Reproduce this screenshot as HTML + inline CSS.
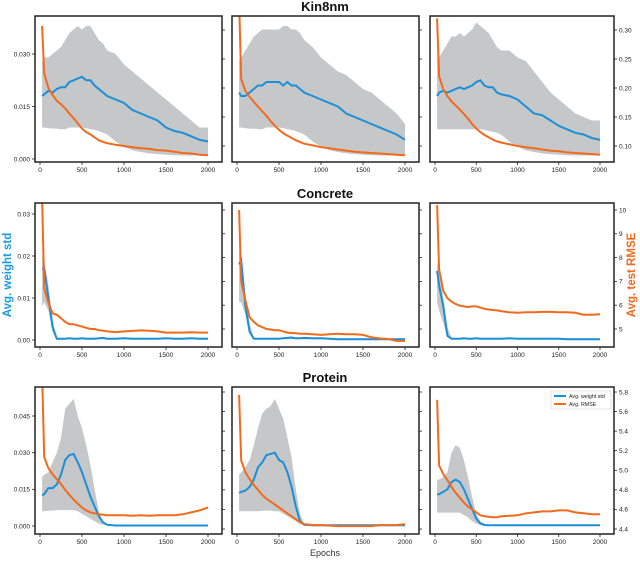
<!DOCTYPE html>
<html><head><meta charset="utf-8"><style>
body{margin:0;background:#fff;width:640px;height:562px;overflow:hidden;font-family:"Liberation Sans",sans-serif}
svg text{font-family:"Liberation Sans",sans-serif}
</style></head><body>
<svg id="chart" width="640" height="562" xmlns="http://www.w3.org/2000/svg"></svg>
<script>
const epochs=[25,50,100,150,200,250,300,350,400,450,500,550,600,650,700,750,800,900,1000,1100,1200,1300,1400,1500,1600,1700,1800,1900,2000];
const xTicks=[0,500,1000,1500,2000];
const rowTitles=["Kin8nm","Concrete","Protein"];
const leftTicks=[[0,0.015,0.030],[0,0.01,0.02,0.03],[0,0.015,0.030,0.045]];
const leftTickLabels=[["0.000","0.015","0.030"],["0.00","0.01","0.02","0.03"],["0.000","0.015","0.030","0.045"]];
const rightTicks=[[0.10,0.15,0.20,0.25,0.30],[5,6,7,8,9,10],[4.4,4.6,4.8,5.0,5.2,5.4,5.6,5.8]];
const rightTickLabels=[["0.10","0.15","0.20","0.25","0.30"],["5","6","7","8","9","10"],["4.4","4.6","4.8","5.0","5.2","5.4","5.6","5.8"]];
// Kin8nm
const k1Mean=[0.018,0.0185,0.0195,0.019,0.020,0.0205,0.0205,0.022,0.0225,0.023,0.0235,0.0225,0.0225,0.021,0.020,0.019,0.018,0.017,0.016,0.014,0.013,0.012,0.011,0.009,0.008,0.0075,0.0065,0.0055,0.005];
const k1Hi=[0.028,0.029,0.029,0.030,0.031,0.032,0.034,0.036,0.037,0.038,0.037,0.038,0.038,0.036,0.034,0.033,0.031,0.030,0.027,0.025,0.023,0.021,0.019,0.017,0.015,0.013,0.011,0.009,0.009];
const k1Lo=[0.009,0.009,0.0088,0.0087,0.0087,0.0085,0.0085,0.009,0.009,0.009,0.009,0.0088,0.0085,0.0083,0.008,0.0075,0.007,0.005,0.0035,0.0025,0.002,0.0016,0.0014,0.0012,0.0011,0.001,0.001,0.001,0.001];
const k1Rmse=[0.307,0.225,0.20,0.188,0.178,0.172,0.165,0.156,0.148,0.139,0.13,0.124,0.12,0.115,0.11,0.107,0.105,0.102,0.1,0.098,0.096,0.095,0.093,0.092,0.09,0.088,0.087,0.085,0.084];
const k2Mean=[0.019,0.018,0.018,0.019,0.020,0.021,0.021,0.022,0.022,0.022,0.022,0.021,0.022,0.021,0.021,0.020,0.019,0.018,0.017,0.016,0.015,0.013,0.012,0.011,0.010,0.009,0.008,0.007,0.0055];
const k2Hi=[0.028,0.029,0.031,0.033,0.035,0.036,0.037,0.037,0.037,0.037,0.037,0.038,0.038,0.037,0.037,0.036,0.034,0.032,0.029,0.027,0.025,0.024,0.022,0.020,0.019,0.017,0.015,0.013,0.010];
const k2Lo=[0.009,0.009,0.0088,0.0087,0.0087,0.0085,0.0085,0.009,0.009,0.009,0.009,0.0088,0.0085,0.0083,0.008,0.0075,0.007,0.005,0.0035,0.0025,0.002,0.0016,0.0014,0.0012,0.0011,0.001,0.001,0.001,0.001];
const k2Rmse=[0.35,0.215,0.195,0.185,0.176,0.168,0.16,0.152,0.143,0.135,0.128,0.122,0.118,0.114,0.11,0.107,0.104,0.101,0.098,0.096,0.094,0.092,0.09,0.089,0.088,0.087,0.086,0.085,0.084];
const k3Mean=[0.018,0.019,0.0195,0.019,0.0195,0.020,0.0205,0.020,0.0205,0.021,0.022,0.0225,0.021,0.0205,0.0205,0.019,0.0185,0.018,0.017,0.015,0.013,0.0125,0.011,0.0095,0.0085,0.0075,0.007,0.006,0.0055];
const k3Hi=[0.029,0.029,0.031,0.033,0.035,0.035,0.036,0.035,0.036,0.037,0.039,0.038,0.037,0.036,0.034,0.032,0.031,0.031,0.029,0.028,0.025,0.022,0.019,0.017,0.015,0.013,0.012,0.011,0.011];
const k3Lo=[0.0085,0.0085,0.0085,0.0085,0.0085,0.0085,0.0085,0.0085,0.0085,0.0085,0.0085,0.0085,0.0083,0.008,0.0078,0.0075,0.007,0.005,0.0035,0.0025,0.002,0.0016,0.0014,0.0012,0.0011,0.001,0.001,0.001,0.001];
const k3Rmse=[0.32,0.22,0.198,0.186,0.177,0.17,0.163,0.155,0.147,0.138,0.13,0.124,0.119,0.115,0.111,0.108,0.106,0.103,0.1,0.098,0.096,0.094,0.092,0.091,0.089,0.088,0.087,0.086,0.085];
// Concrete
const c1Mean=[0.017,0.017,0.010,0.003,0.0003,0.0003,0.0003,0.0004,0.0003,0.0003,0.0004,0.0003,0.0003,0.0003,0.0004,0.0005,0.0003,0.0003,0.0004,0.0003,0.0003,0.0003,0.0003,0.0004,0.0003,0.0003,0.0004,0.0003,0.0003];
const c1Hi=[0.020,0.019,0.013,0.005,0.0006,0.0005,0.0005,0.0006,0.0005,0.0005,0.0006,0.0005,0.0005,0.0005,0.0006,0.0007,0.0005,0.0005,0.0006,0.0005,0.0005,0.0005,0.0005,0.0006,0.0005,0.0005,0.0006,0.0005,0.0005];
const c1Lo=[0.008,0.009,0.007,0.002,0.0002,0.0002,0.0002,0.0002,0.0002,0.0002,0.0002,0.0002,0.0002,0.0002,0.0002,0.0002,0.0002,0.0002,0.0002,0.0002,0.0002,0.0002,0.0002,0.0002,0.0002,0.0002,0.0002,0.0002,0.0002];
const c1Rmse=[10.5,6.7,6.1,5.65,5.6,5.45,5.3,5.2,5.2,5.15,5.1,5.05,5.0,5.0,4.95,4.93,4.9,4.87,4.9,4.92,4.94,4.93,4.9,4.85,4.85,4.85,4.86,4.85,4.85];
const c2Mean=[0.018,0.019,0.008,0.002,0.0003,0.0003,0.0003,0.0003,0.0003,0.0003,0.0003,0.0004,0.0005,0.0006,0.0004,0.0004,0.0005,0.0004,0.0004,0.0003,0.0002,0.0002,0.0002,0.0002,0.0002,0.0002,0.0002,0.0002,0.0002];
const c2Hi=[0.021,0.020,0.011,0.004,0.0006,0.0005,0.0005,0.0005,0.0005,0.0005,0.0005,0.0006,0.0007,0.0008,0.0006,0.0006,0.0007,0.0006,0.0006,0.0005,0.0004,0.0004,0.0004,0.0004,0.0004,0.0004,0.0004,0.0004,0.0004];
const c2Lo=[0.009,0.009,0.006,0.0015,0.0002,0.0002,0.0002,0.0002,0.0002,0.0002,0.0002,0.0002,0.0002,0.0002,0.0002,0.0002,0.0002,0.0002,0.0002,0.0002,0.0001,0.0001,0.0001,0.0001,0.0001,0.0001,0.0001,0.0001,0.0001];
const c2Rmse=[10.0,7.0,6.2,5.5,5.3,5.15,5.08,5.0,4.98,4.95,4.95,4.9,4.85,4.83,4.82,4.8,4.8,4.78,4.75,4.78,4.8,4.78,4.78,4.75,4.65,4.6,4.58,4.5,4.5];
const c3Mean=[0.0165,0.013,0.008,0.001,0.0003,0.0003,0.0003,0.0004,0.0003,0.0003,0.0004,0.0003,0.0003,0.0003,0.0003,0.0003,0.0003,0.0004,0.0003,0.0003,0.0003,0.0003,0.0003,0.0003,0.0002,0.0002,0.0002,0.0002,0.0002];
const c3Hi=[0.019,0.016,0.010,0.003,0.0006,0.0005,0.0005,0.0006,0.0005,0.0005,0.0006,0.0005,0.0005,0.0005,0.0005,0.0005,0.0005,0.0006,0.0005,0.0005,0.0005,0.0005,0.0005,0.0005,0.0004,0.0004,0.0004,0.0004,0.0004];
const c3Lo=[0.009,0.007,0.004,0.0007,0.0002,0.0002,0.0002,0.0002,0.0002,0.0002,0.0002,0.0002,0.0002,0.0002,0.0002,0.0002,0.0002,0.0002,0.0002,0.0002,0.0002,0.0002,0.0002,0.0002,0.0001,0.0001,0.0001,0.0001,0.0001];
const c3Rmse=[10.2,7.5,6.6,6.3,6.15,6.05,5.98,5.95,5.92,5.95,5.95,5.9,5.85,5.82,5.8,5.78,5.75,5.7,5.68,5.7,5.7,5.72,5.72,5.7,5.7,5.68,5.6,5.6,5.62];
// Protein
const p1Mean=[0.0125,0.013,0.0155,0.0155,0.017,0.021,0.027,0.029,0.0295,0.026,0.022,0.017,0.012,0.008,0.004,0.0015,0.0005,0.0002,0.0002,0.0002,0.0002,0.0002,0.0002,0.0002,0.0002,0.0002,0.0002,0.0002,0.0002];
const p1Hi=[0.020,0.021,0.022,0.026,0.030,0.036,0.048,0.050,0.052,0.045,0.040,0.033,0.025,0.015,0.006,0.002,0.0008,0.0005,0.0005,0.0005,0.0005,0.0005,0.0005,0.0005,0.0005,0.0005,0.0005,0.0005,0.0005];
const p1Lo=[0.006,0.006,0.0062,0.0063,0.0065,0.0065,0.0065,0.0065,0.0065,0.006,0.005,0.004,0.003,0.002,0.001,0.0005,0.0003,0.0001,0.0001,0.0001,0.0001,0.0001,0.0001,0.0001,0.0001,0.0001,0.0001,0.0001,0.0001];
const p1Rmse=[6.0,5.135,5.02,4.96,4.91,4.86,4.8,4.75,4.7,4.66,4.62,4.59,4.57,4.56,4.55,4.545,4.54,4.54,4.54,4.535,4.54,4.535,4.54,4.54,4.54,4.55,4.57,4.59,4.62];
const p2Mean=[0.0135,0.014,0.0145,0.016,0.019,0.024,0.026,0.029,0.0295,0.030,0.027,0.026,0.022,0.016,0.008,0.002,0.0005,0.0003,0.0003,0.0003,0.0003,0.0003,0.0003,0.0003,0.0003,0.0003,0.0003,0.0003,0.0003];
const p2Hi=[0.021,0.022,0.024,0.027,0.033,0.040,0.046,0.048,0.049,0.052,0.048,0.044,0.036,0.028,0.015,0.005,0.001,0.0006,0.0006,0.0006,0.0006,0.0006,0.0006,0.0006,0.0006,0.0006,0.0006,0.0006,0.0006];
const p2Lo=[0.006,0.006,0.006,0.006,0.006,0.006,0.0062,0.0063,0.0063,0.006,0.006,0.005,0.004,0.003,0.002,0.001,0.0003,0.0001,0.0001,0.0001,0.0001,0.0001,0.0001,0.0001,0.0001,0.0001,0.0001,0.0001,0.0001];
const p2Rmse=[5.77,5.1,4.98,4.91,4.85,4.8,4.75,4.71,4.68,4.65,4.62,4.59,4.56,4.53,4.5,4.47,4.45,4.44,4.44,4.435,4.43,4.43,4.43,4.43,4.43,4.44,4.44,4.44,4.45];
const p3Mean=[0.013,0.013,0.014,0.015,0.018,0.019,0.018,0.015,0.011,0.007,0.003,0.001,0.0004,0.0003,0.0003,0.0003,0.0003,0.0003,0.0003,0.0003,0.0003,0.0003,0.0003,0.0003,0.0003,0.0003,0.0003,0.0003,0.0003];
const p3Hi=[0.019,0.019,0.020,0.022,0.030,0.033,0.032,0.027,0.020,0.012,0.005,0.002,0.001,0.0006,0.0006,0.0006,0.0006,0.0006,0.0006,0.0006,0.0006,0.0006,0.0006,0.0006,0.0006,0.0006,0.0006,0.0006,0.0006];
const p3Lo=[0.0055,0.0055,0.0055,0.0055,0.0055,0.0055,0.0055,0.0045,0.0035,0.002,0.001,0.0005,0.0002,0.0001,0.0001,0.0001,0.0001,0.0001,0.0001,0.0001,0.0001,0.0001,0.0001,0.0001,0.0001,0.0001,0.0001,0.0001,0.0001];
const p3Rmse=[5.72,5.05,4.96,4.9,4.83,4.77,4.72,4.67,4.63,4.6,4.57,4.54,4.53,4.525,4.52,4.52,4.53,4.535,4.54,4.56,4.57,4.58,4.58,4.59,4.59,4.57,4.56,4.55,4.55];

const panels=[[[k1Mean,k1Hi,k1Lo,k1Rmse],[k2Mean,k2Hi,k2Lo,k2Rmse],[k3Mean,k3Hi,k3Lo,k3Rmse]],
[[c1Mean,c1Hi,c1Lo,c1Rmse],[c2Mean,c2Hi,c2Lo,c2Rmse],[c3Mean,c3Hi,c3Lo,c3Rmse]],
[[p1Mean,p1Hi,p1Lo,p1Rmse],[p2Mean,p2Hi,p2Lo,p2Rmse],[p3Mean,p3Hi,p3Lo,p3Rmse]]];

const cols=[[35,222],[232,419],[430,614]];
const rows=[[16,162],[203,347],[387,534]];
const leftScale=[[0,159,0.03,54],[0,340,0.03,214],[0,526,0.045,416]];
const rightScale=[[0.1,146,0.3,30],[5,329,10,210],[4.4,529,5.8,392]];
const NS="http://www.w3.org/2000/svg";
const svg=document.getElementById('chart');
function mk(tag,attrs,parent){const e=document.createElementNS(NS,tag);for(const k in attrs)e.setAttribute(k,attrs[k]);(parent||svg).appendChild(e);return e;}
function xS(c,e){const[l,r]=cols[c];return l+5+e/2000*(r-l-19);}
function lin(s,v){return s[1]+(v-s[0])/(s[2]-s[0])*(s[3]-s[1]);}
const defs=mk('defs',{});
for(let r=0;r<3;r++){
  const t=mk('text',{x:325,y:rows[r][0]-5,'text-anchor':'middle','font-size':'13','font-weight':'bold',fill:'#111'});
  t.textContent=rowTitles[r];
  
  
  for(let c=0;c<3;c++){
    const[l,rr]=cols[c],[tp,bt]=rows[r];
    const g=mk('g',{});
    
    
    const id='clip'+r+c;
    const cp=mk('clipPath',{id:id},defs);mk('rect',{x:l,y:tp,width:rr-l,height:bt-tp},cp);
    const[mean,hi,lo,rm]=panels[r][c];
    const ls=leftScale[r],rs=rightScale[r];
    const cg=mk('g',{'clip-path':'url(#'+id+')'},g);
    let d='';epochs.forEach((e,i)=>{d+=(i?'L':'M')+xS(c,e).toFixed(1)+','+lin(ls,hi[i]).toFixed(1);});
    for(let i=epochs.length-1;i>=0;i--)d+='L'+xS(c,epochs[i]).toFixed(1)+','+lin(ls,lo[i]).toFixed(1);
    const band=mk('path',{d:d+'Z',fill:'#c6c7c9'},cg);
    
    
    const pm=mk('polyline',{points:epochs.map((e,i)=>xS(c,e).toFixed(1)+','+lin(ls,mean[i]).toFixed(1)).join(' '),fill:'none',stroke:'#1b8fd9','stroke-width':'2'},cg);
    
    
    const pr=mk('polyline',{points:epochs.map((e,i)=>xS(c,e).toFixed(1)+','+lin(rs,rm[i]).toFixed(1)).join(' '),fill:'none',stroke:'#f26a1c','stroke-width':'2'},cg);
    
    
    mk('rect',{x:l,y:tp,width:rr-l,height:bt-tp,fill:'none',stroke:'#222','stroke-width':'1.5'},g);
    xTicks.forEach(v=>{const x=xS(c,v);mk('line',{x1:x,x2:x,y1:bt,y2:bt+3,stroke:'#222','stroke-width':'0.8'},g);
      const tt=mk('text',{x:x,y:bt+10,'text-anchor':'middle','font-size':'6.5',fill:'#222'},g);tt.textContent=v;});
    rightTicks[r].forEach((v,i)=>{const y=lin(rs,v);mk('line',{x1:rr,x2:rr+3,y1:y,y2:y,stroke:'#222','stroke-width':'0.8'},g);
      if(c==2){const tt=mk('text',{x:rr+5,y:y+2.3,'font-size':'6.5',fill:'#222'},g);tt.textContent=rightTickLabels[r][i];}});
    if(c==0)leftTicks[r].forEach((v,i)=>{const y=lin(ls,v);mk('line',{x1:l-3,x2:l,y1:y,y2:y,stroke:'#222','stroke-width':'0.8'},g);
      const tt=mk('text',{x:l-5,y:y+2.3,'text-anchor':'end','font-size':'6.5',fill:'#222'},g);tt.textContent=leftTickLabels[r][i];});
  }
}
const yl=mk('text',{x:11,y:275,transform:'rotate(-90 11 275)','text-anchor':'middle','font-size':'11.5','font-weight':'bold',fill:'#1b9ce0'});
yl.textContent='Avg. weight std';


const yr=mk('text',{x:635,y:275,transform:'rotate(-90 635 275)','text-anchor':'middle','font-size':'11.5','font-weight':'bold',fill:'#f26a1c'});
yr.textContent='Avg. test RMSE';


const xl=mk('text',{x:325,y:556,'text-anchor':'middle','font-size':'9',fill:'#333'});
xl.textContent='Epochs';


const lg=mk('g',{});


mk('rect',{x:551,y:391,width:60,height:18,fill:'#fff',stroke:'#ccc','stroke-width':'0.6',rx:1.5},lg);
mk('line',{x1:554,x2:566,y1:396,y2:396,stroke:'#1b8fd9','stroke-width':'2'},lg);
mk('line',{x1:554,x2:566,y1:404,y2:404,stroke:'#f26a1c','stroke-width':'2'},lg);
const l1=mk('text',{x:569,y:398,'font-size':'5.3',fill:'#222'},lg);l1.textContent='Avg. weight std';
const l2=mk('text',{x:569,y:406,'font-size':'5.3',fill:'#222'},lg);l2.textContent='Avg. RMSE';
</script>
</body></html>
